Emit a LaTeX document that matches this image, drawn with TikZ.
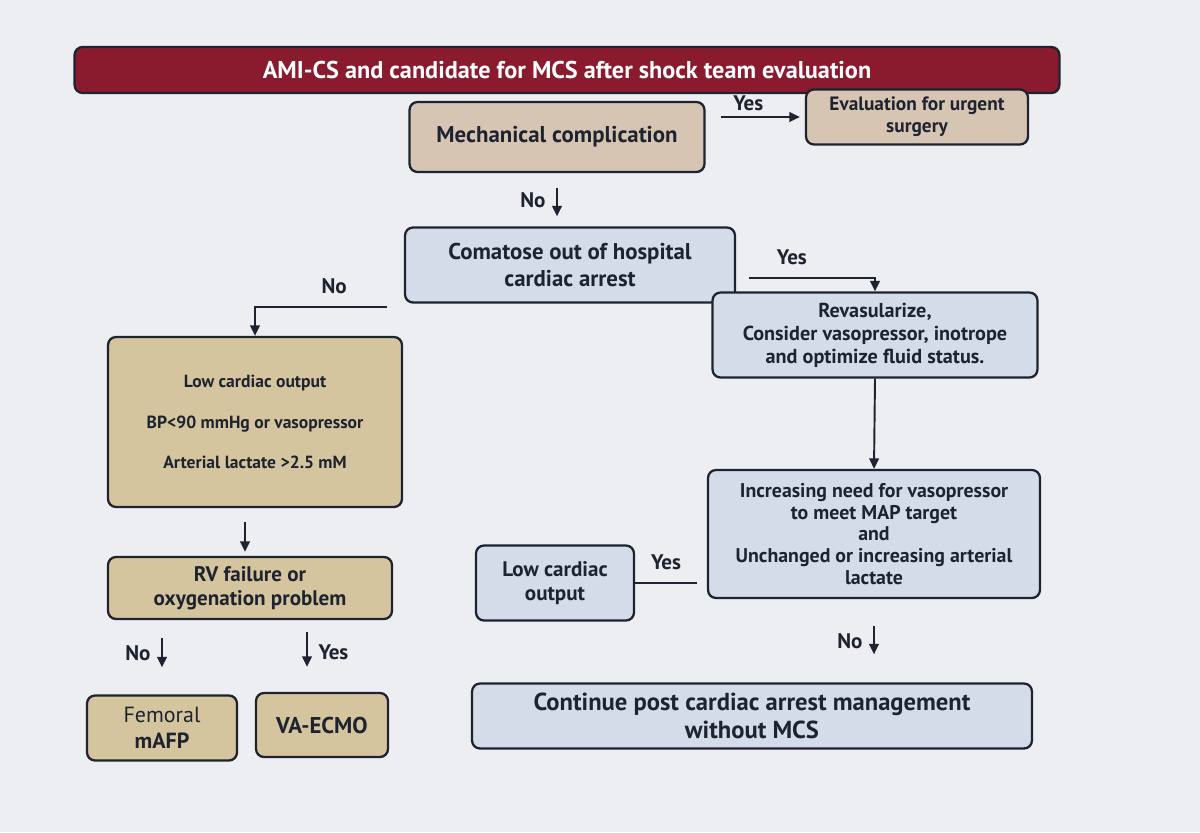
\documentclass[tikz,border=0pt]{standalone}
\usepackage{fontspec}
\setmainfont{PT Sans}
\usetikzlibrary{calc,arrows.meta}
\definecolor{bg}{HTML}{ECEEF2}
\definecolor{edge}{HTML}{1E2330}
\definecolor{crimson}{HTML}{8A1B2E}
\definecolor{tanfill}{HTML}{D7C5B4}
\definecolor{bluefill}{HTML}{D5DCE9}
\definecolor{khakifill}{HTML}{D5C59F}
\begin{document}
\begin{tikzpicture}[x=0.02cm,y=-0.02cm,
  box/.style={draw=edge, line width=1.3pt, rounded corners=0.16cm, inner sep=2pt,
    align=center, font=\bfseries\fontsize{10}{12}\selectfont, text=edge},
  tanbox/.style={box, fill=tanfill},
  bluebox/.style={box, fill=bluefill},
  khakibox/.style={box, fill=khakifill},
  arr/.style={-{Triangle[length=6pt,width=5.5pt]}, line width=1.1pt, draw=edge},
  conn/.style={line width=1.1pt, draw=edge},
  lbl/.style={font=\bfseries\fontsize{12}{14}\selectfont, text=edge, inner sep=1pt}]
\useasboundingbox (0,0) rectangle (1200,832);
\fill[bg] (0,0) rectangle (1200,832);

% title bar
\node[box, fill=crimson, text=white, minimum width=19.7cm, minimum height=0.92cm,
  font=\bfseries\fontsize{13.8}{16}\selectfont] (title) at (567,70)
  {AMI-CS and candidate for MCS after shock team evaluation};

% nodes
\node[tanbox, minimum width=5.9cm, minimum height=1.4cm, font=\bfseries\fontsize{13}{15}\selectfont] (mech) at (557,137) {Mechanical complication};
\node[tanbox, minimum width=4.44cm, minimum height=1.1cm, font=\bfseries\fontsize{11}{12.5}\selectfont] (eval) at (917,117) {Evaluation for urgent\\surgery};
\node[bluebox, minimum width=6.6cm, minimum height=1.5cm, font=\bfseries\fontsize{13}{15}\selectfont] (coma) at (570,265) {Comatose out of hospital\\cardiac arrest};
\node[khakibox, minimum width=5.88cm, minimum height=3.4cm, font=\bfseries\fontsize{10}{23}\selectfont] (lowco) at (255,422) {Low cardiac output\\BP<90 mmHg or vasopressor\\Arterial lactate >2.5 mM};
\node[bluebox, minimum width=6.5cm, minimum height=1.7cm, font=\bfseries\fontsize{11.5}{13}\selectfont] (reva) at (875,335) {Revasularize,\\Consider vasopressor, inotrope\\and optimize fluid status.};
\node[bluebox, minimum width=6.64cm, minimum height=2.56cm, font=\bfseries\fontsize{11.3}{12.3}\selectfont] (incr) at (874,534) {Increasing need for vasopressor\\to meet MAP target\\and\\Unchanged or increasing arterial\\lactate};
\node[bluebox, minimum width=3.16cm, minimum height=1.5cm, font=\bfseries\fontsize{12}{14}\selectfont] (lowco2) at (555,583) {Low cardiac\\output};
\node[bluebox, minimum width=11.2cm, minimum height=1.3cm, font=\bfseries\fontsize{14}{16}\selectfont] (cont) at (752,716) {Continue post cardiac arrest management\\without MCS};
\node[khakibox, minimum width=5.68cm, minimum height=1.24cm, font=\bfseries\fontsize{12}{13.5}\selectfont] (rv) at (250,588) {RV failure or\\oxygenation problem};
\node[khakibox, minimum width=3.0cm, minimum height=1.3cm, font=\fontsize{12.5}{14.5}\selectfont] (fem) at (162,728) {Femoral\\\textbf{mAFP}};
\node[khakibox, minimum width=2.64cm, minimum height=1.28cm, font=\bfseries\fontsize{13}{15}\selectfont] (va) at (322,725) {VA-ECMO};

% connectors
\draw[arr, shorten <=0.3cm, shorten >=0.1cm] (mech.east |- eval.west) -- (eval.west)
  node[lbl, midway, above=2pt, xshift=-4pt] (yes1) {Yes};
\draw[arr, shorten <=0.3cm, shorten >=0.2cm] (mech.south) -- (mech.south |- coma.north)
  node[lbl, midway, left=5pt] (no1) {No};
\draw[arr] ($(coma.east)+(13,13)$) -| (reva.north)
  node[lbl, pos=0.17, above=6pt] (yes2) {Yes};
\draw[arr] ($(coma.south west)+(-17,3)$) -| (lowco.north)
  node[lbl, pos=0.2, above=6pt] (no2) {No};
\draw[arr] (reva.south) -- (incr.north);
\draw[arr, shorten <=0.28cm, shorten >=0.08cm] ($(lowco.south)+(-10,0)$) -- ($(lowco.south |- rv.north)+(-10,0)$);
\draw[arr, shorten <=0.36cm, shorten >=0.54cm] (fem.north |- rv.south) -- (fem.north)
  node[lbl, pos=0.45, left=5pt] (no3) {No};
\draw[arr, shorten <=0.24cm, shorten >=0.5cm] ($(va.north |- rv.south)+(-15,0)$) -- ($(va.north)+(-15,0)$)
  node[lbl, pos=0.45, right=5pt] (yes3) {Yes};
\draw[conn] ([xshift=-0.2cm]incr.west |- lowco2.east) -- (lowco2.east)
  node[lbl, midway, above=6pt] (yes4) {Yes};
\draw[arr, shorten <=0.54cm, shorten >=0.56cm] (incr.south) -- (incr.south |- cont.north)
  node[lbl, pos=0.5, left=5pt] (no4) {No};
\end{tikzpicture}
\end{document}
